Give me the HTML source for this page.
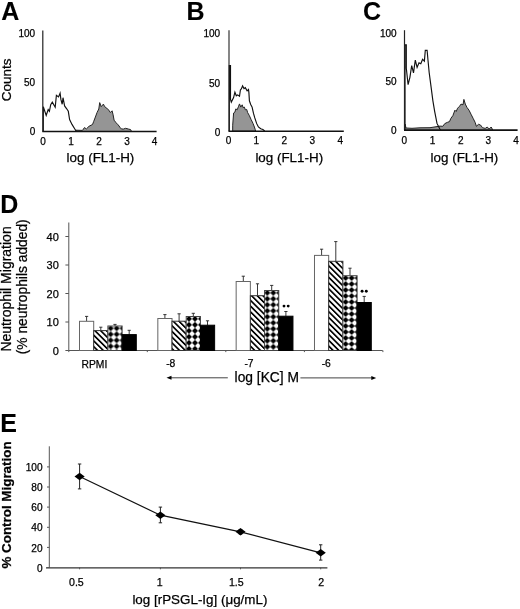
<!DOCTYPE html>
<html><head><meta charset="utf-8"><style>
html,body{margin:0;padding:0;background:#fff;}
body{width:520px;height:609px;overflow:hidden;}
svg{display:block;filter:grayscale(100%);}
text{font-family:"Liberation Sans", sans-serif;fill:#000;stroke:#000;stroke-width:0.25px;}
</style></head><body>
<svg width="520" height="609" viewBox="0 0 520 609">
<text x="1.3" y="20.2" font-size="25" font-weight="bold" style="stroke-width:0.1px">A</text>
<text x="186.5" y="19.8" font-size="25" font-weight="bold" style="stroke-width:0.1px">B</text>
<text x="363.0" y="19.8" font-size="25" font-weight="bold" style="stroke-width:0.1px">C</text>
<text x="0.2" y="213" font-size="25" font-weight="bold" style="stroke-width:0.1px">D</text>
<text x="0.2" y="431.8" font-size="25" font-weight="bold" style="stroke-width:0.1px">E</text>
<polygon points="75.4,131.5 76.0,130.2 82.5,130.4 84.4,127.6 86.4,128.9 89.0,126.3 92.5,124.5 93.6,121.7 95.4,117.0 97.1,112.4 98.8,109.0 99.7,102.6 101.2,106.7 103.4,104.1 104.7,106.7 106.7,108.1 108.7,110.1 110.4,112.5 112.1,110.8 113.1,114.8 114.1,120.2 116.2,122.9 118.2,124.9 120.2,127.6 121.5,129.0 123.6,129.0 125.6,128.3 128.3,129.0 130.6,129.6 131.6,131.5" fill="#959595" stroke="#222" stroke-width="1"/>
<polyline points="43.3,131.3 43.3,106.8 46.2,115.4 48.2,109.6 49.4,111.3 50.7,104.7 52.3,102.2 55.2,107.2 56.4,95.3 58.5,96.9 60.1,93.2 60.9,99.4 62.2,104.3 63.0,97.7 64.6,105.9 66.7,108.8 68.3,111.3 69.6,119.5 72.0,124.4 74.5,128.5 76.1,131.0 80.0,131.3" fill="none" stroke="#111" stroke-width="1.15"/>
<line x1="42.8" y1="30.5" x2="42.8" y2="131.5" stroke="#222" stroke-width="1.2"/>
<line x1="42.3" y1="131.5" x2="156.6" y2="131.5" stroke="#111" stroke-width="1.6"/>
<text x="35.2" y="37.1" font-size="10" text-anchor="end">100</text>
<text x="35.2" y="85.89999999999999" font-size="10" text-anchor="end">50</text>
<text x="35.2" y="135.1" font-size="10" text-anchor="end">0</text>
<text x="43" y="144.6" font-size="10" text-anchor="middle">0</text>
<text x="71" y="144.6" font-size="10" text-anchor="middle">1</text>
<text x="99" y="144.6" font-size="10" text-anchor="middle">2</text>
<text x="127" y="144.6" font-size="10" text-anchor="middle">3</text>
<text x="154.5" y="144.6" font-size="10" text-anchor="middle">4</text>
<polygon points="232.7,131.2 232.7,125.2 233.6,113.0 234.9,112.1 235.8,108.9 237.2,109.8 238.6,106.2 239.5,103.9 240.8,107.1 242.2,104.8 243.1,107.6 244.4,107.1 245.3,109.8 246.7,109.4 247.6,112.5 249.4,115.7 251.2,119.7 253.0,123.4 254.4,127.0 255.3,129.7 255.7,131.2" fill="#959595" stroke="#222" stroke-width="1"/>
<polyline points="229.3,131.0 229.3,65.5 230.5,65.5 230.5,99.4 231.3,102.1 233.6,97.6 234.9,92.2 236.3,95.8 237.6,94.9 239.5,96.3 240.4,89.9 241.3,89.0 242.6,85.9 244.0,88.6 245.3,87.7 247.1,90.8 248.5,89.5 248.9,92.6 249.4,100.8 250.7,104.4 252.1,107.1 253.5,113.4 254.8,117.9 256.6,123.4 258.4,127.0 260.7,128.8 262.9,129.5 264.7,131.0" fill="none" stroke="#111" stroke-width="1.15"/>
<rect x="229.0" y="65.8" width="1.8" height="33.4" fill="#111"/>
<line x1="229.0" y1="30.3" x2="229.0" y2="131.2" stroke="#222" stroke-width="1.1"/>
<line x1="228.5" y1="131.2" x2="343.8" y2="131.2" stroke="#111" stroke-width="1.5"/>
<text x="220.2" y="37.4" font-size="10" text-anchor="end">100</text>
<text x="220.2" y="86.6" font-size="10" text-anchor="end">50</text>
<text x="220.2" y="135.79999999999998" font-size="10" text-anchor="end">0</text>
<text x="228.5" y="144.29999999999998" font-size="10" text-anchor="middle">0</text>
<text x="256.2" y="144.29999999999998" font-size="10" text-anchor="middle">1</text>
<text x="284.3" y="144.29999999999998" font-size="10" text-anchor="middle">2</text>
<text x="312.2" y="144.29999999999998" font-size="10" text-anchor="middle">3</text>
<text x="340.2" y="144.29999999999998" font-size="10" text-anchor="middle">4</text>
<polygon points="404.5,130.5 405.0,124.0 406.0,128.0 412.0,128.3 420.0,127.8 430.0,127.7 440.1,126.1 442.8,126.3 444.8,123.6 447.5,122.3 449.5,121.6 450.9,118.3 452.9,115.6 454.9,110.2 456.2,111.5 457.6,108.2 459.6,106.2 461.0,104.1 463.0,104.8 463.9,99.4 465.3,104.1 467.0,107.5 469.0,110.2 471.0,114.2 473.1,118.3 475.1,122.3 476.4,126.3 478.5,124.3 480.5,125.0 482.5,127.7 485.2,128.4 487.2,127.0 489.2,129.0 491.2,127.0 492.6,129.7 493.5,130.5" fill="#959595" stroke="#222" stroke-width="1"/>
<polyline points="405.0,130.5 405.0,44.9 406.3,44.9 406.3,68.3 408.1,84.6 409.9,77.3 411.7,65.6 413.5,72.8 415.3,60.2 417.1,67.4 419.0,62.9 420.8,63.8 422.6,59.3 424.4,61.1 425.3,50.3 427.1,50.3 428.0,60.2 429.2,72.8 431.0,86.4 432.9,100.8 434.7,111.6 437.0,123.4 439.7,128.8 441.0,130.5" fill="none" stroke="#111" stroke-width="1.15"/>
<line x1="404.5" y1="30.2" x2="404.5" y2="130.1" stroke="#222" stroke-width="1.2"/>
<line x1="404.0" y1="130.1" x2="517.6" y2="130.1" stroke="#111" stroke-width="1.6"/>
<text x="396.6" y="36.800000000000004" font-size="10" text-anchor="end">100</text>
<text x="396.6" y="85.39999999999999" font-size="10" text-anchor="end">50</text>
<text x="396.6" y="134.1" font-size="10" text-anchor="end">0</text>
<text x="404.2" y="143.6" font-size="10" text-anchor="middle">0</text>
<text x="432.5" y="143.6" font-size="10" text-anchor="middle">1</text>
<text x="460.8" y="143.6" font-size="10" text-anchor="middle">2</text>
<text x="488.4" y="143.6" font-size="10" text-anchor="middle">3</text>
<text x="516" y="143.6" font-size="10" text-anchor="middle">4</text>
<text transform="translate(11.3,101.2) rotate(-90)" font-size="13.5">Counts</text>
<text x="66.6" y="162.1" font-size="13.4">log (FL1-H)</text>
<text x="255.4" y="161.6" font-size="13.4">log (FL1-H)</text>
<text x="430.6" y="161.5" font-size="13.4">log (FL1-H)</text>
<line x1="68.8" y1="222.5" x2="68.8" y2="350.5" stroke="#555" stroke-width="1"/>
<line x1="68.8" y1="350.5" x2="382.7" y2="350.5" stroke="#555" stroke-width="1"/>
<line x1="65.4" y1="350.5" x2="68.8" y2="350.5" stroke="#555" stroke-width="1"/>
<text x="58.8" y="354.9" font-size="11" text-anchor="end">0</text>
<line x1="65.4" y1="322.0" x2="68.8" y2="322.0" stroke="#555" stroke-width="1"/>
<text x="58.8" y="326.4" font-size="11" text-anchor="end">10</text>
<line x1="65.4" y1="293.5" x2="68.8" y2="293.5" stroke="#555" stroke-width="1"/>
<text x="58.8" y="297.9" font-size="11" text-anchor="end">20</text>
<line x1="65.4" y1="265.0" x2="68.8" y2="265.0" stroke="#555" stroke-width="1"/>
<text x="58.8" y="269.4" font-size="11" text-anchor="end">30</text>
<line x1="65.4" y1="236.5" x2="68.8" y2="236.5" stroke="#555" stroke-width="1"/>
<text x="58.8" y="240.9" font-size="11" text-anchor="end">40</text>
<line x1="68.8" y1="350.5" x2="68.8" y2="352.1" stroke="#555" stroke-width="1"/>
<line x1="147.3" y1="350.5" x2="147.3" y2="352.1" stroke="#555" stroke-width="1"/>
<line x1="225.8" y1="350.5" x2="225.8" y2="352.1" stroke="#555" stroke-width="1"/>
<line x1="304.4" y1="350.5" x2="304.4" y2="352.1" stroke="#555" stroke-width="1"/>
<line x1="382.9" y1="350.5" x2="382.9" y2="352.1" stroke="#555" stroke-width="1"/>
<defs><pattern id="h0" patternUnits="userSpaceOnUse" width="4.05" height="4.05" x="93.7" y="330.6" patternTransform="rotate(-45 93.7 330.6)"><rect width="4.05" height="4.05" fill="#fff"/><rect width="1.70" height="4.05" fill="#000"/></pattern><pattern id="c0" patternUnits="userSpaceOnUse" width="6" height="6" x="107.65" y="325.30"><rect width="6" height="6" fill="#fff"/><polygon points="3,0 6,3 3,6 0,3" fill="#000"/></pattern><pattern id="h1" patternUnits="userSpaceOnUse" width="4.05" height="4.05" x="172.02999999999997" y="321.2" patternTransform="rotate(-45 172.02999999999997 321.2)"><rect width="4.05" height="4.05" fill="#fff"/><rect width="1.70" height="4.05" fill="#000"/></pattern><pattern id="c1" patternUnits="userSpaceOnUse" width="6" height="6" x="185.98" y="315.80"><rect width="6" height="6" fill="#fff"/><polygon points="3,0 6,3 3,6 0,3" fill="#000"/></pattern><pattern id="h2" patternUnits="userSpaceOnUse" width="4.05" height="4.05" x="250.35999999999999" y="295.7" patternTransform="rotate(-45 250.35999999999999 295.7)"><rect width="4.05" height="4.05" fill="#fff"/><rect width="1.70" height="4.05" fill="#000"/></pattern><pattern id="c2" patternUnits="userSpaceOnUse" width="6" height="6" x="264.31" y="289.80"><rect width="6" height="6" fill="#fff"/><polygon points="3,0 6,3 3,6 0,3" fill="#000"/></pattern><pattern id="h3" patternUnits="userSpaceOnUse" width="4.05" height="4.05" x="328.69" y="261.3" patternTransform="rotate(-45 328.69 261.3)"><rect width="4.05" height="4.05" fill="#fff"/><rect width="1.70" height="4.05" fill="#000"/></pattern><pattern id="c3" patternUnits="userSpaceOnUse" width="6" height="6" x="342.64" y="275.00"><rect width="6" height="6" fill="#fff"/><polygon points="3,0 6,3 3,6 0,3" fill="#000"/></pattern></defs>
<line x1="86.6" y1="316.4" x2="86.6" y2="321.3" stroke="#222" stroke-width="0.9"/>
<line x1="85.0" y1="316.4" x2="88.2" y2="316.4" stroke="#222" stroke-width="0.9"/>
<rect x="79.50" y="321.3" width="14.2" height="29.20" fill="#fff" stroke="#666" stroke-width="1"/>
<line x1="100.8" y1="327.2" x2="100.8" y2="330.6" stroke="#222" stroke-width="0.9"/>
<line x1="99.2" y1="327.2" x2="102.4" y2="327.2" stroke="#222" stroke-width="0.9"/>
<rect x="93.70" y="330.6" width="14.2" height="19.90" fill="url(#h0)" stroke="#333" stroke-width="1"/>
<line x1="115.0" y1="324.4" x2="115.0" y2="326.0" stroke="#222" stroke-width="0.9"/>
<line x1="113.4" y1="324.4" x2="116.6" y2="324.4" stroke="#222" stroke-width="0.9"/>
<rect x="107.90" y="326.0" width="14.2" height="24.50" fill="url(#c0)" stroke="#444" stroke-width="1"/>
<line x1="129.2" y1="330.3" x2="129.2" y2="334.6" stroke="#222" stroke-width="0.9"/>
<line x1="127.6" y1="330.3" x2="130.8" y2="330.3" stroke="#222" stroke-width="0.9"/>
<rect x="122.10" y="334.6" width="14.2" height="15.90" fill="#000" stroke="#000" stroke-width="1"/>
<line x1="164.9" y1="314.6" x2="164.9" y2="318.5" stroke="#222" stroke-width="0.9"/>
<line x1="163.3" y1="314.6" x2="166.5" y2="314.6" stroke="#222" stroke-width="0.9"/>
<rect x="157.83" y="318.5" width="14.2" height="32.00" fill="#fff" stroke="#666" stroke-width="1"/>
<line x1="179.1" y1="313.8" x2="179.1" y2="321.2" stroke="#222" stroke-width="0.9"/>
<line x1="177.5" y1="313.8" x2="180.7" y2="313.8" stroke="#222" stroke-width="0.9"/>
<rect x="172.03" y="321.2" width="14.2" height="29.30" fill="url(#h1)" stroke="#333" stroke-width="1"/>
<line x1="193.3" y1="313.3" x2="193.3" y2="316.5" stroke="#222" stroke-width="0.9"/>
<line x1="191.7" y1="313.3" x2="194.9" y2="313.3" stroke="#222" stroke-width="0.9"/>
<rect x="186.23" y="316.5" width="14.2" height="34.00" fill="url(#c1)" stroke="#444" stroke-width="1"/>
<line x1="207.5" y1="320.8" x2="207.5" y2="325.2" stroke="#222" stroke-width="0.9"/>
<line x1="205.9" y1="320.8" x2="209.1" y2="320.8" stroke="#222" stroke-width="0.9"/>
<rect x="200.43" y="325.2" width="14.2" height="25.30" fill="#000" stroke="#000" stroke-width="1"/>
<line x1="243.3" y1="276.2" x2="243.3" y2="281.5" stroke="#222" stroke-width="0.9"/>
<line x1="241.7" y1="276.2" x2="244.9" y2="276.2" stroke="#222" stroke-width="0.9"/>
<rect x="236.16" y="281.5" width="14.2" height="69.00" fill="#fff" stroke="#666" stroke-width="1"/>
<line x1="257.5" y1="283.8" x2="257.5" y2="295.7" stroke="#222" stroke-width="0.9"/>
<line x1="255.9" y1="283.8" x2="259.1" y2="283.8" stroke="#222" stroke-width="0.9"/>
<rect x="250.36" y="295.7" width="14.2" height="54.80" fill="url(#h2)" stroke="#333" stroke-width="1"/>
<line x1="271.7" y1="285.4" x2="271.7" y2="290.5" stroke="#222" stroke-width="0.9"/>
<line x1="270.1" y1="285.4" x2="273.3" y2="285.4" stroke="#222" stroke-width="0.9"/>
<rect x="264.56" y="290.5" width="14.2" height="60.00" fill="url(#c2)" stroke="#444" stroke-width="1"/>
<line x1="285.9" y1="311.5" x2="285.9" y2="316.2" stroke="#222" stroke-width="0.9"/>
<line x1="284.3" y1="311.5" x2="287.5" y2="311.5" stroke="#222" stroke-width="0.9"/>
<rect x="278.76" y="316.2" width="14.2" height="34.30" fill="#000" stroke="#000" stroke-width="1"/>
<line x1="321.6" y1="249.2" x2="321.6" y2="255.4" stroke="#222" stroke-width="0.9"/>
<line x1="320.0" y1="249.2" x2="323.2" y2="249.2" stroke="#222" stroke-width="0.9"/>
<rect x="314.49" y="255.4" width="14.2" height="95.10" fill="#fff" stroke="#666" stroke-width="1"/>
<line x1="335.8" y1="241.6" x2="335.8" y2="261.3" stroke="#222" stroke-width="0.9"/>
<line x1="334.2" y1="241.6" x2="337.4" y2="241.6" stroke="#222" stroke-width="0.9"/>
<rect x="328.69" y="261.3" width="14.2" height="89.20" fill="url(#h3)" stroke="#333" stroke-width="1"/>
<line x1="350.0" y1="268.2" x2="350.0" y2="275.7" stroke="#222" stroke-width="0.9"/>
<line x1="348.4" y1="268.2" x2="351.6" y2="268.2" stroke="#222" stroke-width="0.9"/>
<rect x="342.89" y="275.7" width="14.2" height="74.80" fill="url(#c3)" stroke="#444" stroke-width="1"/>
<line x1="364.2" y1="296.4" x2="364.2" y2="302.5" stroke="#222" stroke-width="0.9"/>
<line x1="362.6" y1="296.4" x2="365.8" y2="296.4" stroke="#222" stroke-width="0.9"/>
<rect x="357.09" y="302.5" width="14.2" height="48.00" fill="#000" stroke="#000" stroke-width="1"/>
<circle cx="284.0" cy="306.1" r="1.45" fill="#000"/><circle cx="288.20000000000005" cy="306.1" r="1.45" fill="#000"/>
<circle cx="362.09999999999997" cy="291.3" r="1.45" fill="#000"/><circle cx="366.3" cy="291.3" r="1.45" fill="#000"/>
<text x="81.5" y="368.0" font-size="10.3">RPMI</text>
<text x="166.2" y="367" font-size="10.3">-8</text>
<text x="244.4" y="367" font-size="10.3">-7</text>
<text x="321.7" y="367" font-size="10.3">-6</text>
<text x="234.6" y="381.6" font-size="13.8">log [KC] M</text>
<line x1="170" y1="377.8" x2="227.8" y2="377.8" stroke="#444" stroke-width="1"/>
<polygon points="166.5,377.8 171.5,375.8 171.5,379.8" fill="#000"/>
<line x1="300.4" y1="377.9" x2="372.5" y2="377.9" stroke="#444" stroke-width="1"/>
<polygon points="376.2,377.9 371.3,375.9 371.3,379.9" fill="#000"/>
<text transform="translate(11.4,351.6) rotate(-90)" font-size="14">Neutrophil Migration</text>
<text transform="translate(26.9,354.3) rotate(-90)" font-size="13.8">(% neutrophils added)</text>
<line x1="49.3" y1="446.3" x2="49.3" y2="567.5" stroke="#555" stroke-width="1"/>
<line x1="46" y1="567.8" x2="327.4" y2="567.8" stroke="#333" stroke-width="1.2"/>
<line x1="47" y1="567.5" x2="49.3" y2="567.5" stroke="#555" stroke-width="1"/>
<text x="42.6" y="571.6" font-size="10.1" text-anchor="end">0</text>
<line x1="47" y1="547.4" x2="49.3" y2="547.4" stroke="#555" stroke-width="1"/>
<text x="42.6" y="551.5" font-size="10.1" text-anchor="end">20</text>
<line x1="47" y1="527.3" x2="49.3" y2="527.3" stroke="#555" stroke-width="1"/>
<text x="42.6" y="531.4" font-size="10.1" text-anchor="end">40</text>
<line x1="47" y1="507.1" x2="49.3" y2="507.1" stroke="#555" stroke-width="1"/>
<text x="42.6" y="511.2" font-size="10.1" text-anchor="end">60</text>
<line x1="47" y1="487.0" x2="49.3" y2="487.0" stroke="#555" stroke-width="1"/>
<text x="42.6" y="491.1" font-size="10.1" text-anchor="end">80</text>
<line x1="47" y1="466.9" x2="49.3" y2="466.9" stroke="#555" stroke-width="1"/>
<text x="42.6" y="471.0" font-size="10.1" text-anchor="end">100</text>
<line x1="79.6" y1="567.5" x2="79.6" y2="569.3" stroke="#555" stroke-width="1"/>
<line x1="160.4" y1="567.5" x2="160.4" y2="569.3" stroke="#555" stroke-width="1"/>
<line x1="240.5" y1="567.5" x2="240.5" y2="569.3" stroke="#555" stroke-width="1"/>
<line x1="320.7" y1="567.5" x2="320.7" y2="569.3" stroke="#555" stroke-width="1"/>
<polyline points="79.6,476.5 160.4,515.2 240.5,531.8 320.7,552.8" fill="none" stroke="#111" stroke-width="1.2"/>
<line x1="79.6" y1="464.0" x2="79.6" y2="488.9" stroke="#222" stroke-width="1"/>
<line x1="77.89999999999999" y1="464.0" x2="81.3" y2="464.0" stroke="#222" stroke-width="1"/>
<line x1="77.89999999999999" y1="488.9" x2="81.3" y2="488.9" stroke="#222" stroke-width="1"/>
<polygon points="79.6,472.7 84.69999999999999,476.5 79.6,480.3 74.5,476.5" fill="#000"/>
<line x1="160.4" y1="507.1" x2="160.4" y2="522.8" stroke="#222" stroke-width="1"/>
<line x1="158.70000000000002" y1="507.1" x2="162.1" y2="507.1" stroke="#222" stroke-width="1"/>
<line x1="158.70000000000002" y1="522.8" x2="162.1" y2="522.8" stroke="#222" stroke-width="1"/>
<polygon points="160.4,511.40000000000003 165.5,515.2 160.4,519.0 155.3,515.2" fill="#000"/>
<line x1="240.5" y1="529.5" x2="240.5" y2="534" stroke="#222" stroke-width="1"/>
<line x1="238.8" y1="529.5" x2="242.2" y2="529.5" stroke="#222" stroke-width="1"/>
<line x1="238.8" y1="534" x2="242.2" y2="534" stroke="#222" stroke-width="1"/>
<polygon points="240.5,528.0 245.6,531.8 240.5,535.5999999999999 235.4,531.8" fill="#000"/>
<line x1="320.7" y1="544.8" x2="320.7" y2="560.1" stroke="#222" stroke-width="1"/>
<line x1="319.0" y1="544.8" x2="322.4" y2="544.8" stroke="#222" stroke-width="1"/>
<line x1="319.0" y1="560.1" x2="322.4" y2="560.1" stroke="#222" stroke-width="1"/>
<polygon points="320.7,549.0 325.8,552.8 320.7,556.5999999999999 315.59999999999997,552.8" fill="#000"/>
<text x="76.4" y="586.3" font-size="10.6" text-anchor="middle">0.5</text>
<text x="159.6" y="586.3" font-size="10.6" text-anchor="middle">1</text>
<text x="236.3" y="586.3" font-size="10.6" text-anchor="middle">1.5</text>
<text x="321.3" y="586.3" font-size="10.6" text-anchor="middle">2</text>
<text x="132.4" y="603.6" font-size="13.4">log [rPSGL-Ig] (μg/mL)</text>
<text transform="translate(11,568.6) rotate(-90)" font-size="13.4" font-weight="bold">% Control Migration</text>
</svg>
</body></html>
